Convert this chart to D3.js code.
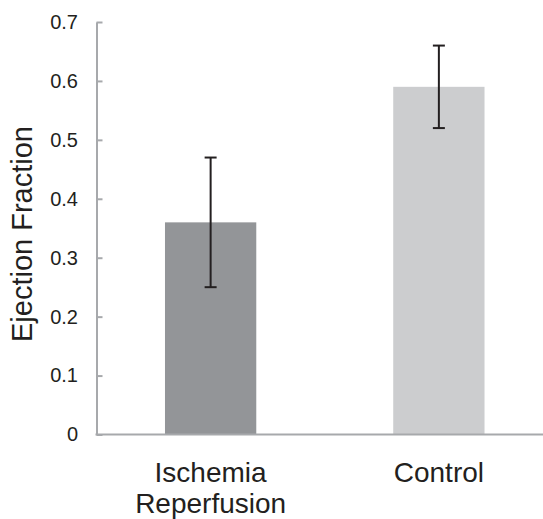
<!DOCTYPE html>
<html>
<head>
<meta charset="utf-8">
<script src="https://cdn.jsdelivr.net/npm/d3@7"></script>
<style>
  body { margin: 0; background: #fff; }
  svg { display: block; }
  .axis text { font-family: "Liberation Sans", Arial, sans-serif; font-size: 20px; fill: #231f20; }
  .axis path, .axis line { stroke: #a7a9ac; stroke-width: 2; }
</style>
</head>
<body>
<div id="chart"></div>
<script>
// data
var categories = [["Ischemia", "Reperfusion"], ["Control"]];
var keys = ["Ischemia Reperfusion", "Control"];
var values = [0.36, 0.59];
var errLow = [0.25, 0.52];
var errHigh = [0.47, 0.66];
var barColors = ["#939598", "#cccdcf"];
var yTicks = [0, 0.1, 0.2, 0.3, 0.4, 0.5, 0.6, 0.7];

var width = 543, height = 519;
var margin = {top: 22, bottom: 84.5, left: 96.5, right: 0};

var svg = d3.select('#chart').append("svg")
  .attr("width", width)
  .attr("height", height);

var xscale = d3.scaleBand()
  .domain(keys)
  .range([margin.left, 553])
  .paddingInner(0.6)
  .paddingOuter(0.3);

var yscale = d3.scaleLinear()
  .domain([0, 0.7])
  .range([height - margin.bottom, margin.top]);

// bars
svg.selectAll("rect.bar").data(values).enter().append("rect")
  .attr("class", "bar")
  .attr("x", function(d, i) { return xscale(keys[i]); })
  .attr("width", xscale.bandwidth())
  .attr("y", function(d) { return yscale(d); })
  .attr("height", function(d) { return yscale(0) - yscale(d); })
  .attr("fill", function(d, i) { return barColors[i]; });

// y axis, ticks pointing inward
var yaxis = d3.axisLeft(yscale)
  .tickValues(yTicks)
  .tickFormat(function(d) { return d === 0 ? "0" : d3.format(".1f")(d); })
  .tickSizeInner(-6)
  .tickSizeOuter(0)
  .tickPadding(18.5);
var yg = svg.append("g").attr("class", "axis")
  .attr("transform", "translate(" + margin.left + ",0)")
  .call(yaxis);

// x axis line
svg.append("line")
  .attr("x1", margin.left - 1).attr("x2", width)
  .attr("y1", yscale(0)).attr("y2", yscale(0))
  .attr("stroke", "#a7a9ac").attr("stroke-width", 2);

// error bars
var eg = svg.append("g").attr("stroke", "#231f20").attr("stroke-width", 2);
keys.forEach(function(k, i) {
  var cx = xscale(k) + xscale.bandwidth() / 2;
  eg.append("line").attr("x1", cx).attr("x2", cx)
    .attr("y1", yscale(errLow[i])).attr("y2", yscale(errHigh[i]));
  eg.append("line").attr("x1", cx - 6).attr("x2", cx + 6)
    .attr("y1", yscale(errLow[i])).attr("y2", yscale(errLow[i]));
  eg.append("line").attr("x1", cx - 6).attr("x2", cx + 6)
    .attr("y1", yscale(errHigh[i])).attr("y2", yscale(errHigh[i]));
});

// category labels
keys.forEach(function(k, i) {
  var cx = xscale(k) + xscale.bandwidth() / 2;
  var t = svg.append("text")
    .attr("x", cx).attr("y", 482)
    .attr("text-anchor", "middle")
    .style("font-family", '"Liberation Sans", Arial, sans-serif')
    .style("font-size", "28px")
    .style("fill", "#231f20");
  categories[i].forEach(function(line, j) {
    t.append("tspan").attr("x", cx).attr("dy", j === 0 ? 0 : 31).text(line);
  });
});

// y title
svg.append("text")
  .attr("transform", "translate(32," + 234 + ") rotate(-90)")
  .attr("text-anchor", "middle")
  .style("font-family", '"Liberation Sans", Arial, sans-serif')
  .style("font-size", "29px")
  .style("fill", "#231f20")
  .text("Ejection Fraction");
</script>
</body>
</html>
